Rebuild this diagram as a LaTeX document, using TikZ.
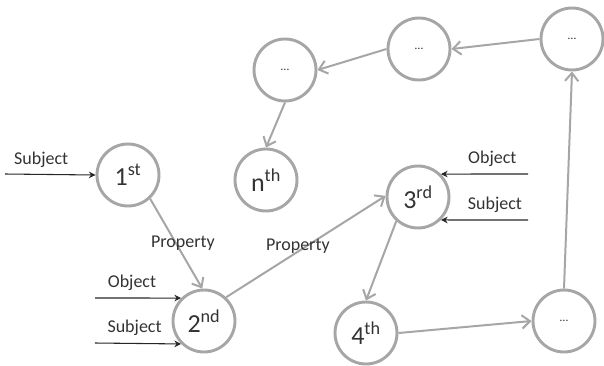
\documentclass[tikz,border=0pt]{standalone}
\usepackage{fontspec}
\setmainfont{Carlito}
\usetikzlibrary{arrows,shapes,positioning}
\usetikzlibrary{arrows.meta}
\definecolor{nodegray}{HTML}{A6A6A6}
\definecolor{textgray}{HTML}{333333}
\tikzstyle{bignode}=[draw=nodegray, circle, line width=2.2pt, minimum size=46.5pt, inner sep=0pt, text=textgray, font=\fontsize{19.5}{22}\selectfont]
\tikzstyle{dotnode}=[bignode, font=\fontsize{9}{10}\selectfont]
\tikzstyle{propTransition}=[draw=nodegray, line width=1.5pt, -{Straight Barb[length=6pt,width=10pt]}]
\tikzstyle{inTransition}=[draw=black!85, line width=0.8pt, -{Stealth[length=5pt,width=5pt]}]
\tikzstyle{lbl}=[text=textgray, font=\fontsize{13.5}{16}\selectfont]

\begin{document}
\begin{tikzpicture}[x=0.75pt, y=-0.75pt]
    \useasboundingbox (0,0) rectangle (604,365);

    \node[bignode] (n1) at (128,175) {1\textsuperscript{st}};
    \node[bignode] (n2) at (204,321) {2\textsuperscript{nd}};
    \node[bignode] (n3) at (418,197) {3\textsuperscript{rd}};
    \node[bignode] (n4) at (366,333) {4\textsuperscript{th}};
    \node[bignode] (nn) at (266,180) {n\textsuperscript{th}};
    \node[dotnode] (d1) at (564,321) {…};
    \node[dotnode] (d2) at (572,39) {…};
    \node[dotnode] (d3) at (419,49) {…};
    \node[dotnode] (d4) at (285,70) {…};

    % Inputs
    \coordinate (s1) at (5,174);
    \coordinate (o2) at (95,298);
    \coordinate (s2) at (95,343);
    \coordinate (o3) at (528,174);
    \coordinate (s3) at (528,220);

    \draw[inTransition] (s1) -- node[lbl, pos=0.4, above=1.5pt] {Subject} (n1.west);
    \draw[inTransition] (o2) -- node[lbl, pos=0.43, above=2pt] {Object} (n2.135);
    \draw[inTransition] (s2) -- node[lbl, pos=0.46, above=2pt] {Subject} (n2.225);
    \draw[inTransition] (o3) -- node[lbl, pos=0.41, above=2pt] {Object} (n3.45);
    \draw[inTransition] (s3) -- node[lbl, pos=0.38, above=2pt] {Subject} (n3.-45);

    % Arcs
    \draw[propTransition] (n1.-47) -- node[lbl, midway, xshift=5pt] {Property} (n2.93);
    \draw[propTransition] (n2.47) -- node[lbl, midway, xshift=-6pt] {Property} (n3.178);
    \draw[propTransition] (n3.-132) -- (n4.north);
    \draw[propTransition] (n4.east) -- (d1.west);
    \draw[propTransition] (d1.north) -- (d2.south);
    \draw[propTransition] (d2.west) -- (d3.east);
    \draw[propTransition] (d3.west) -- (d4.east);
    \draw[propTransition] (d4.south) -- (nn.north);

\end{tikzpicture}
\end{document}
